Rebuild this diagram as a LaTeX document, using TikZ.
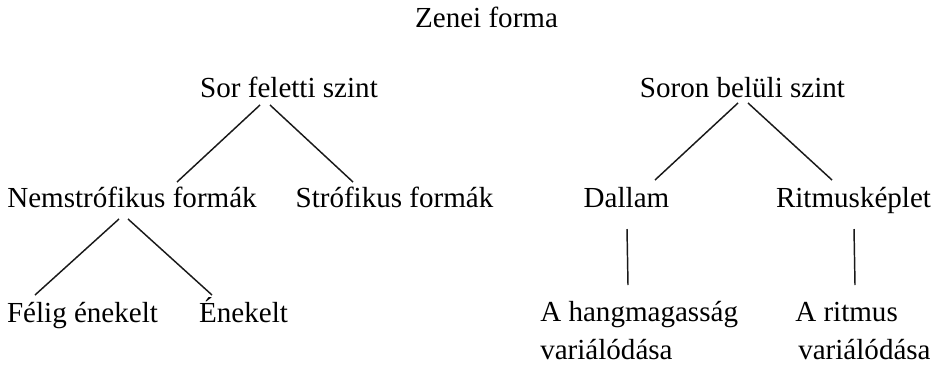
\documentclass[tikz,border=0pt]{standalone}
\usepackage{fontspec}
\setmainfont{Liberation Serif}

\begin{document}
\begin{tikzpicture}[x=0.75pt, y=-0.75pt, inner sep=0pt, font=\fontsize{21.8}{27.8}\selectfont,
    lbl/.style={anchor=base},
    lblml/.style={anchor=base west, align=left},
    conn/.style={line width=1.1pt, black!90}]
    \useasboundingbox (0,0) rectangle (937,364);
    \node[lbl] (zenei) at (486.5,27) {Zenei forma};
    \node[lbl] (sorfel) at (289,97) {Sor feletti szint};
    \node[lbl] (soronbel) at (742.5,97) {Soron belüli szint};
    \node[lbl] (nemstrof) at (132,207) {Nemstrófikus formák};
    \node[lbl] (strof) at (394.5,207) {Strófikus formák};
    \node[lbl] (dallam) at (626.5,207) {Dallam};
    \node[lbl] (ritmus) at (853.5,207) {Ritmusképlet};
    \node[lbl] (felig) at (82.5,322) {Félig énekelt};
    \node[lbl] (enekelt) at (243.5,322) {Énekelt};
    \node[lblml] (hangmag) at (540,359) {A hangmagasság\\variálódása};
    \node[lblml] (ritmvar) at (795,359) {A ritmus\\\hspace*{2.25pt}variálódása};
    \draw[conn] ([shift={(-29,8)}]sorfel.base) -- ([shift={(45,-25)}]nemstrof.base);
    \draw[conn] ([shift={(-19,8)}]sorfel.base) -- ([shift={(-41.5,-25)}]strof.base);
    \draw[conn] ([shift={(-4.5,6)}]soronbel.base) -- ([shift={(28.5,-27)}]dallam.base);
    \draw[conn] ([shift={(5.5,6)}]soronbel.base) -- ([shift={(-21.5,-27)}]ritmus.base);
    \draw[conn] ([shift={(-13,12)}]nemstrof.base) -- ([shift={(-47.5,-27)}]felig.base);
    \draw[conn] ([shift={(-4,12)}]nemstrof.base) -- ([shift={(-31.5,-27)}]enekelt.base);
    \draw[conn] ([shift={(0.5,22)}]dallam.base) -- ([shift={(88,-74)}]hangmag.base west);
    \draw[conn] ([shift={(0.5,22)}]ritmus.base) -- ([shift={(60,-74)}]ritmvar.base west);
\end{tikzpicture}
\end{document}
